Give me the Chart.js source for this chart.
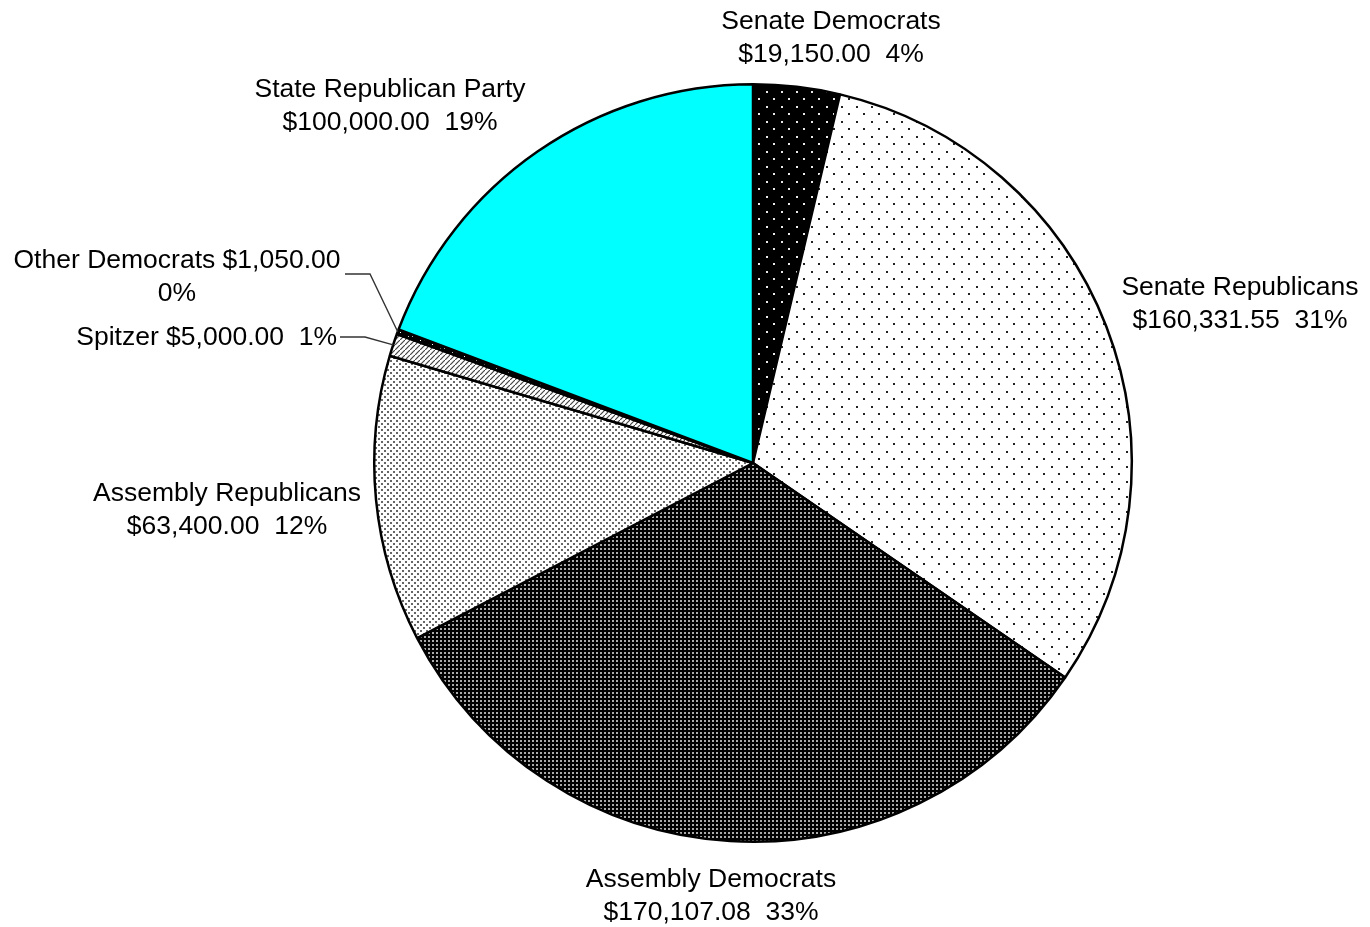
<!DOCTYPE html>
<html>
<head>
<meta charset="utf-8">
<script src="https://cdn.jsdelivr.net/npm/chart.js@4.4.0/dist/chart.umd.min.js"></script>
<style>
  html, body { margin: 0; padding: 0; background: #fff; }
  canvas { display: block; }
</style>
</head>
<body>
<canvas id="pieChart" width="1370" height="927"></canvas>
<script>
// data
const categories = [
  "Senate Democrats",
  "Senate Republicans",
  "Assembly Democrats",
  "Assembly Republicans",
  "Spitzer",
  "Other Democrats",
  "State Republican Party"
];
const amounts = [19150.00, 160331.55, 170107.08, 63400.00, 5000.00, 1050.00, 100000.00];

// where each label sits (layout only)
const labelLayout = [
  { x: 831, y: 29, align: "center", mode: "two" },
  { x: 1240, y: 295, align: "center", mode: "two" },
  { x: 711, y: 887, align: "center", mode: "two" },
  { x: 227, y: 501, align: "center", mode: "two" },
  { x: 337, y: 345, align: "right", mode: "one", leader: { x0: 340, y0: 337, x1: 365 } },
  { x: 177, y: 268, align: "center", mode: "split", leader: { x0: 345, y0: 274, x1: 370 } },
  { x: 390, y: 97, align: "center", mode: "two" }
];

function makePattern(size, draw) {
  const c = document.createElement("canvas");
  c.width = size;
  c.height = size;
  const g = c.getContext("2d");
  draw(g, size);
  return document.getElementById("pieChart").getContext("2d").createPattern(c, "repeat");
}

const fills = [
  makePattern(15, (g, s) => {
    g.fillStyle = "#000"; g.fillRect(0, 0, s, s);
    g.fillStyle = "#e8e8e8"; g.fillRect(1, 1, 2, 2); g.fillRect(8, 8, 2, 2);
  }),
  makePattern(15, (g, s) => {
    g.fillStyle = "#fff"; g.fillRect(0, 0, s, s);
    g.fillStyle = "#222"; g.fillRect(1, 1, 2, 2); g.fillRect(8, 8, 2, 2);
  }),
  makePattern(4, (g, s) => {
    g.fillStyle = "#000"; g.fillRect(0, 0, s, s);
    g.fillStyle = "#aaa"; g.fillRect(0, 0, 2, 2);
  }),
  makePattern(6, (g, s) => {
    g.fillStyle = "#fff"; g.fillRect(0, 0, s, s);
    g.fillStyle = "#666"; g.fillRect(0, 0, 2, 2); g.fillRect(3, 3, 2, 2);
  }),
  makePattern(5, (g, s) => {
    g.fillStyle = "#fff"; g.fillRect(0, 0, s, s);
    g.strokeStyle = "#444"; g.lineWidth = 1.2;
    g.beginPath(); g.moveTo(-1, s + 1); g.lineTo(s + 1, -1); g.stroke();
  }),
  makePattern(4, (g, s) => {
    g.fillStyle = "#000"; g.fillRect(0, 0, s, s);
    g.fillStyle = "#fff"; g.fillRect(0, 0, 1, 1);
  }),
  "#00ffff"
];

const total = amounts.reduce((a, b) => a + b, 0);

function money(v) {
  return "$" + v.toLocaleString("en-US", { minimumFractionDigits: 2, maximumFractionDigits: 2 });
}

const labelPlugin = {
  id: "pieLabels",
  afterDraw(chart) {
    const ctx = chart.ctx;
    const arcs = chart.getDatasetMeta(0).data;
    ctx.save();
    ctx.font = "26.5px 'Liberation Sans', Arial, sans-serif";
    ctx.fillStyle = "#000";
    ctx.textBaseline = "alphabetic";
    const lh = 33;
    labelLayout.forEach((lay, i) => {
      const pct = Math.round(amounts[i] / total * 100) + "%";
      let lines;
      if (lay.mode === "one") lines = [categories[i] + " " + money(amounts[i]) + "  " + pct];
      else if (lay.mode === "split") lines = [categories[i] + " " + money(amounts[i]), pct];
      else lines = [categories[i], money(amounts[i]) + "  " + pct];
      ctx.textAlign = lay.align;
      lines.forEach((t, k) => ctx.fillText(t, lay.x, lay.y + k * lh));

      if (lay.leader) {
        const a = arcs[i];
        const mid = (a.startAngle + a.endAngle) / 2;
        const ex = a.x + Math.cos(mid) * a.outerRadius;
        const ey = a.y + Math.sin(mid) * a.outerRadius;
        ctx.strokeStyle = "#333";
        ctx.lineWidth = 1.4;
        ctx.beginPath();
        ctx.moveTo(lay.leader.x0, lay.leader.y0);
        ctx.lineTo(lay.leader.x1, lay.leader.y0);
        ctx.lineTo(ex, ey);
        ctx.stroke();
      }
    });
    ctx.restore();
  }
};

new Chart(document.getElementById("pieChart"), {
  type: "pie",
  data: {
    labels: categories,
    datasets: [{
      data: amounts,
      backgroundColor: fills,
      borderColor: "#000",
      borderWidth: 2.5
    }]
  },
  options: {
    responsive: false,
    animation: false,
    layout: { padding: { top: 83, bottom: 84, left: 373, right: 237 } },
    plugins: {
      legend: { display: false },
      tooltip: { enabled: false }
    }
  },
  plugins: [labelPlugin]
});
</script>
</body>
</html>
